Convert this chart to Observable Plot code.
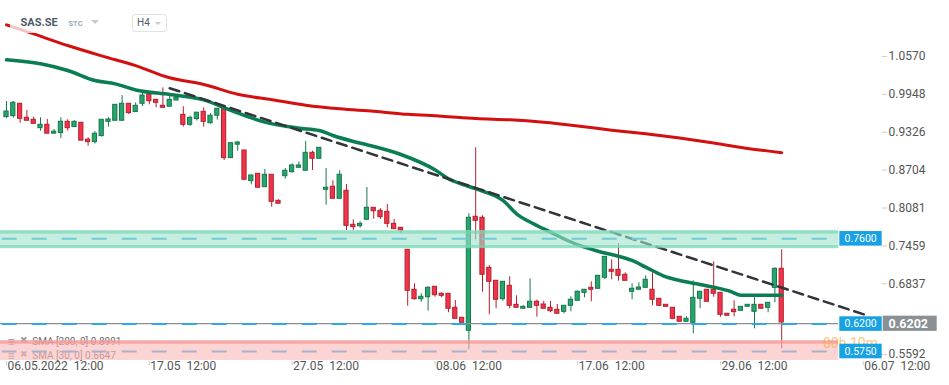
<!DOCTYPE html>
<html><head><meta charset="utf-8">
<script src="https://cdn.jsdelivr.net/npm/d3@7"></script>
<script src="https://cdn.jsdelivr.net/npm/@observablehq/plot@0.6"></script>
<style>
body{margin:0;background:#fff;font-family:Roboto,sans-serif;}
#wrap{position:relative;width:949px;height:385px;overflow:hidden;}
#wrap svg{position:absolute;left:0;top:0;}
.hdr{position:absolute;left:10px;top:0;width:160px;height:33px;background:rgba(255,255,255,0.75);z-index:2;}
.sym{position:absolute;left:20.5px;top:17px;font-size:11px;line-height:12px;font-weight:bold;color:#4f5b66;z-index:3;}
.stc{position:absolute;left:68.5px;top:20px;font-size:7.5px;line-height:8px;font-weight:bold;color:#9aa7b1;z-index:3;}
.tri{position:absolute;width:0;height:0;border-left:4.5px solid transparent;border-right:4.5px solid transparent;border-top:4px solid #c5cbd0;z-index:3;}
.tf{position:absolute;left:131.5px;top:14px;width:33px;height:16px;border:1px solid #dfe3e6;border-radius:3px;z-index:3;background:#fff;}
.tf span{position:absolute;left:4.5px;top:3px;font-size:10px;line-height:10px;color:#4f5b66;}
</style></head><body>
<div id="wrap">
  <div class="hdr"></div>
  <div class="sym">SAS.SE</div>
  <div class="stc">STC</div>
  <div class="tri" style="left:90.5px;top:19.5px"></div>
  <div class="tf"><span>H4</span></div>
  <div class="tri" style="left:154.5px;top:22px;border-left-width:3px;border-right-width:3px;border-top-width:3px"></div>
</div>
<script>
// ---- data (4h candles, index 1..115) ----
const open = [.9573,.9589,.9793,.9563,.9530,.9392,.9448,.9302,.9312,.9497,.9410,.9481,.9203,.9164,.9262,.9497,.9514,.9514,.9793,.9657,
.9793,.9946,.9858,.9760,.9745,.9847,.9612,.9448,.9542,.9661,.9474,.9597,.9711,.8901,.9121,.9026,.8522,.8643,.8423,.8627,
.8200,.8604,.8670,.8742,.8693,.8988,.8890,.8381,.8430,.8233,.8364,.7806,.7783,.7888,.8085,.8036,.8019,.7822,.7757,.7395,
.6739,.6584,.6617,.6788,.6673,.6673,.6443,.6279,.6066,.7937,.7921,.7100,.6886,.6584,.6804,.6492,.6427,.6443,.6542,.6497,
.6443,.6410,.6377,.6476,.6558,.6689,.6771,.6755,.6936,.7067,.7067,.6985,.6706,.6739,.6771,.6739,.6591,.6492,.6443,.6295,
.6213,.6197,.6591,.6739,.6739,.6689,.6345,.6410,.6394,.6459,.6377,.6492,.6443,.6771,.7083];
const high = [.9831,.9831,.9793,.9683,.9573,.9563,.9535,.9371,.9563,.9530,.9514,.9481,.9235,.9335,.9530,.9563,.9776,.9929,.9793,.9809,
1.0011,.9946,.9858,1.0055,.9913,.9891,.9745,.9589,.9647,.9727,.9630,.9711,.9711,.9157,.9174,.9026,.8616,.8643,.8714,.8627,
.8216,.8730,.8808,.8840,.9174,.9014,.9070,.8730,.8528,.8693,.8468,.7888,.7855,.8418,.8085,.8069,.8139,.7893,.7757,.7395,
.6837,.6673,.6788,.6788,.6689,.6673,.6563,.6279,.7987,.9070,.7954,.7133,.6886,.6870,.6952,.6640,.6476,.6919,.6568,.6547,
.6547,.6497,.6476,.6624,.6722,.6739,.6870,.6968,.7280,.7231,.7494,.7018,.6837,.6854,.6968,.7018,.6591,.6492,.6443,.6295,
.6295,.6886,.6706,.6739,.7198,.6689,.6345,.6558,.6459,.6492,.6607,.6492,.6525,.7100,.7395];
const low = [.9556,.9556,.9474,.9514,.9464,.9343,.9302,.9302,.9220,.9343,.9410,.9187,.9097,.9131,.9246,.9410,.9514,.9514,.9617,.9657,
.9748,.9776,.9727,.9727,.9745,.9847,.9410,.9422,.9509,.9410,.9458,.9525,.8862,.8901,.9014,.8545,.8463,.8414,.8423,.8095,
.8151,.8555,.8653,.8742,.8693,.8698,.8890,.8128,.8233,.8233,.7712,.7712,.7750,.7888,.7898,.7893,.7757,.7734,.7658,.6469,
.6568,.6535,.6387,.6617,.6607,.6361,.6262,.6197,.5758,.7560,.6699,.6328,.6427,.6551,.6427,.6443,.6427,.6443,.6289,.6427,
.6361,.6345,.6345,.6377,.6558,.6607,.6542,.6755,.6903,.6903,.6880,.6886,.6575,.6739,.6771,.6476,.6459,.6459,.6246,.6213,
.6213,.6016,.6427,.6542,.6617,.6289,.6312,.6295,.6394,.6459,.6098,.6427,.6361,.6525,.5770];
const close = [.9666,.9809,.9547,.9514,.9464,.9448,.9302,.9335,.9497,.9392,.9497,.9187,.9164,.9302,.9530,.9535,.9776,.9793,.9640,.9760,
.9929,.9836,.9809,.9727,.9858,.9891,.9448,.9563,.9647,.9497,.9597,.9711,.8901,.9146,.9157,.8545,.8616,.8414,.8627,.8184,
.8151,.8693,.8780,.8780,.8988,.8890,.9070,.8414,.8233,.8627,.7789,.7767,.7822,.8085,.8029,.7931,.7822,.7734,.7712,.6722,
.6584,.6624,.6771,.6650,.6640,.6427,.6262,.6197,.7921,.7872,.6985,.6870,.6575,.6870,.6476,.6443,.6459,.6542,.6476,.6427,
.6387,.6345,.6476,.6575,.6706,.6739,.6739,.6968,.7280,.7034,.6968,.6886,.6755,.6776,.6903,.6575,.6476,.6459,.6262,.6213,
.6262,.6607,.6706,.6542,.6673,.6328,.6312,.6371,.6459,.6492,.6492,.6427,.6525,.7083,.6202];

const sma200X = [1,5,10,15,20,25,30,35,40,45,50,55,60,65,70,75,80,85,90,95,100,105,110,115];
const sma200Y = [1.109,1.094,1.075,1.058,1.042,1.022,1.011,0.995,0.986,0.977,0.971,0.967,0.962,0.959,0.955,0.953,0.949,0.943,0.936,0.930,0.923,0.915,0.906,0.899];
const sma30X = [1,6,10,14,17,20,25,30,34,39,44,47,49,52,54,59,64,66,69,71,74,76,78.5,81,83.5,86,88.5,91,93,95,97.5,100,102.5,105,107.5,109,115];
const sma30Y = [1.0515,1.045,1.034,1.0175,1.012,1.002,0.9946,0.9858,0.9683,0.9491,0.9392,0.9354,0.9272,0.9174,0.912,0.896,0.8709,0.8561,0.8435,0.8358,0.8205,0.7987,0.7822,0.7685,0.7548,0.7438,0.7356,0.729,0.722,0.711,0.6973,0.6891,0.6837,0.6781,0.6711,0.6647,0.6647];

const trendX = [25, 127.5];
const trendY = [1.0049, 0.632];

const supportZone = [0.7422, 0.7712];   // green zone
const resistLow = [0.5578, 0.5906];     // red zone
const levels = [0.76, 0.62, 0.575];
const levelLabels = ["0.7600", "0.6200", "0.5750"];
const lastPrice = 0.6202;
const lastPriceLabel = "0.6202";
const sma200Label = "SMA [200, 0] 0.8991";
const sma30Label = "SMA [30, 0] 0.6647";
const countdown = "00h 10m";

const yTicks = [1.0570, 0.9948, 0.9326, 0.8704, 0.8081, 0.7459, 0.6837];
const yTickLow = [0.5592];
const xTickIdx = [1, 22, 43, 64, 85, 106, 127];
const xTickLabels = ["06.05.2022\u00a0\u00a012:00","17.05\u00a0\u00a012:00","27.05\u00a0\u00a012:00","08.06\u00a0\u00a012:00","17.06\u00a0\u00a012:00","29.06\u00a0\u00a012:00","06.07\u00a0\u00a012:00"];

// ---- layout helpers ----
const STEP = 6.8;
const X0 = 1 - 6/STEP, X1 = 1 + 832/STEP;
const Y0 = 0.5561, Y1 = 1.1489;
const PPU = 361/(Y1-Y0);
const ix = px => X0 + px/STEP;
const dv = px => px/PPU;

const candles = open.map((o,k)=>({i:k+1,o,h:high[k],l:low[k],c:close[k],up:close[k]>=o}));
const G_F="#27a56e", G_L="#16784c", R_F="#f0354a", R_L="#b3202f";
const sma200 = sma200X.map((x,k)=>({x,y:sma200Y[k]}));
const sma30 = sma30X.map((x,k)=>({x,y:sma30Y[k]}));
const trend = trendX.map((x,k)=>({x,y:trendY[k]}));
const lv = levels.map((v,k)=>({v,t:levelLabels[k]}));

const chart = Plot.plot({
  width:949, height:385,
  marginTop:0, marginBottom:24, marginLeft:0, marginRight:111,
  x:{domain:[X0,X1], axis:null},
  y:{domain:[Y0,Y1], axis:null},
  style:{fontFamily:"Roboto, sans-serif", background:"transparent", overflow:"visible"},
  marks:[
    // legend (sits under the zone)
    Plot.text(["≡"],{frameAnchor:"top-left",dx:7,dy:337,text:d=>d,fontSize:12,fontWeight:"bold",fill:"#8e8e8e",textAnchor:"start"}),
    Plot.text(["✖"],{frameAnchor:"top-left",dx:19.5,dy:336.5,text:d=>d,fontSize:8.5,fill:"#9a9a9a",textAnchor:"start"}),
    Plot.text([sma200Label],{frameAnchor:"top-left",dx:31.7,dy:337.5,text:d=>d,fontSize:10,fill:"#6d6d6d",textAnchor:"start"}),
    Plot.text(["≡"],{frameAnchor:"top-left",dx:7,dy:351,text:d=>d,fontSize:12,fontWeight:"bold",fill:"#8e8e8e",textAnchor:"start"}),
    Plot.text(["✖"],{frameAnchor:"top-left",dx:19.5,dy:350.5,text:d=>d,fontSize:8.5,fill:"#9a9a9a",textAnchor:"start"}),
    Plot.text([sma30Label],{frameAnchor:"top-left",dx:31.7,dy:351.5,text:d=>d,fontSize:10,fill:"#6d6d6d",textAnchor:"start"}),
    // candles
    Plot.ruleX(candles,{x:"i",y1:"l",y2:"h",stroke:d=>d.up?G_L:R_L,strokeWidth:1}),
    Plot.rect(candles,{x1:d=>d.i-0.31,x2:d=>d.i+0.31,y1:d=>Math.min(d.o,d.c),y2:d=>Math.max(d.o,d.c),
      fill:d=>d.up?G_F:R_F,stroke:d=>d.up?G_L:R_L,strokeWidth:1}),
    // moving averages and trend
    Plot.line(sma200,{x:"x",y:"y",stroke:"#d30f0f",strokeWidth:3,curve:"monotone-x"}),
    Plot.line(sma30,{x:"x",y:"y",stroke:"#0b7d52",strokeWidth:3.5,curve:"monotone-x"}),
    Plot.line(trend,{x:"x",y:"y",stroke:"#2f353b",strokeWidth:2.5,strokeDasharray:"10,6"}),
    // level lines
    Plot.ruleY([lastPrice],{stroke:"#8b9095",strokeWidth:1.3,dy:1.2}),
    Plot.ruleY(levels,{stroke:"#2fa9e6",strokeWidth:2,strokeDasharray:"15,15",strokeDashoffset:28.3,dy:1.5}),
    // zones on top
    Plot.rect([supportZone],{y1:d=>d[0],y2:d=>d[1],fill:"#9fe3cb",fillOpacity:0.6}),
    Plot.ruleY([supportZone[0]+dv(1.6), supportZone[1]-dv(1.6)],{stroke:"#6fd5b0",strokeOpacity:0.6,strokeWidth:3.3}),
    Plot.rect([resistLow],{y1:d=>d[0],y2:d=>d[1],fill:"#fbb8b8",fillOpacity:0.6}),
    Plot.ruleY([resistLow[1]-dv(1.6)],{stroke:"#f28b8b",strokeOpacity:0.6,strokeWidth:3.3}),
    // countdown
    Plot.text([countdown],{frameAnchor:"top-left",dx:822.5,dy:338,text:d=>d,fontSize:14,fill:"#f9a93c",fillOpacity:0.7,textAnchor:"start"}),
    // level boxes
    Plot.rect(lv,{x1:ix(839.3),x2:ix(881.7),y1:d=>d.v-dv(7.3),y2:d=>d.v+dv(7.3),fill:"#17a2e6",dy:1.5}),
    Plot.text(lv,{x:ix(844),y:"v",text:"t",fill:"#fff",fontSize:10.5,textAnchor:"start",dy:1.5}),
    Plot.rect([lastPrice],{x1:ix(882.7),x2:ix(936.7),y1:d=>d-dv(7.6),y2:d=>d+dv(7.6),fill:"#8b9095",dy:1.3}),
    Plot.text([lastPriceLabel],{x:ix(888),y:lastPrice,text:d=>d,fill:"#fff",fontSize:12.5,fontWeight:"bold",textAnchor:"start",dy:1.3}),
    // y axis
    Plot.ruleY(yTicks,{x1:ix(882),x2:ix(887),stroke:"#cfcfcf"}),
    Plot.text(yTicks,{y:d=>d,text:d=>d.toFixed(4),frameAnchor:"right",dx:50,textAnchor:"start",fontSize:12,fill:"#555"}),
    Plot.ruleY(yTickLow,{x1:ix(882),x2:ix(887),stroke:"#cfcfcf",dy:-5}),
    Plot.text(yTickLow,{y:d=>d,text:d=>d.toFixed(4),frameAnchor:"right",dx:50,dy:-5,textAnchor:"start",fontSize:12,fill:"#555"}),
    // x axis
    Plot.ruleX(xTickIdx,{x:d=>d,y1:Y0,y2:Y0-dv(4),stroke:"#cfcfcf"}),
    Plot.text(xTickIdx,{x:d=>d,text:(d,i)=>xTickLabels[i],frameAnchor:"bottom",dy:8,dx:1,textAnchor:"start",fontSize:12,fill:"#555"})
  ]
});
document.getElementById("wrap").prepend(chart);
</script>
</body></html>
